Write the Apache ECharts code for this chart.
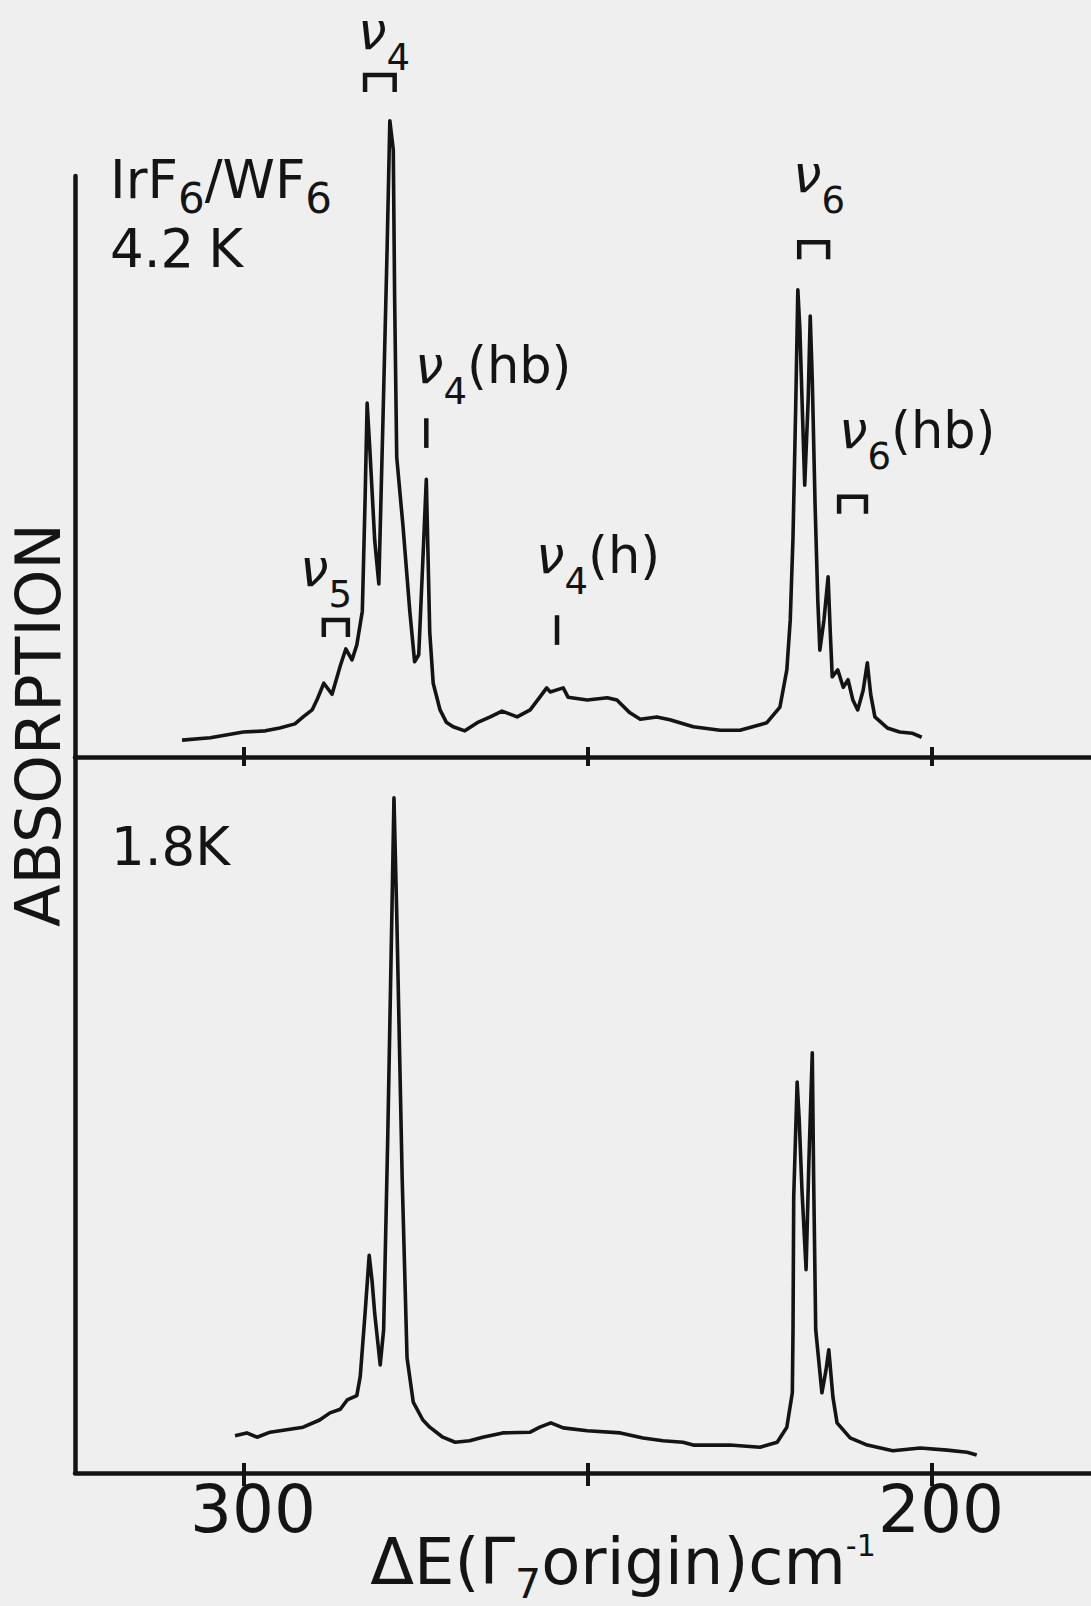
<!DOCTYPE html>
<html>
<head>
<meta charset="utf-8">
<title>IrF6/WF6 absorption</title>
<script src="https://cdn.jsdelivr.net/npm/echarts@6/dist/echarts.min.js"></script>
<style>
  html, body { margin: 0; padding: 0; background: #efefef; }
  #main { width: 1091px; height: 1606px; }
</style>
</head>
<body>
<div id="main"></div>
<script>
// 4.2 K spectrum (upper trace), wavenumber cm-1 / absorption (arb. units)
var topWavenumber = [309.0, 304.9, 300.1, 296.9, 294.8, 292.6, 291.4, 290.1, 289.4, 288.4,
  287.2, 286.0, 285.2, 284.3, 283.6, 282.8, 282.4, 282.1, 281.7, 281.0,
  280.4, 279.8, 279.2, 278.8, 278.3, 278.1, 277.8, 276.9, 275.9, 275.2,
  274.6, 274.0, 273.5, 273.3, 273.0, 272.5, 271.5, 270.6, 269.6, 267.9,
  266.1, 264.2, 262.5, 260.3, 258.4, 257.0, 256.0, 255.5, 253.6, 252.9,
  250.1, 247.2, 245.8, 243.9, 242.4, 240.0, 238.1, 234.7, 230.8, 227.9,
  224.0, 222.1, 221.1, 220.6, 220.2, 219.8, 219.5, 219.2, 218.8, 218.5,
  218.0, 217.7, 217.4, 217.0, 216.6, 216.3, 215.7, 215.1, 214.8, 214.5,
  213.7, 212.9, 212.2, 211.5, 210.8, 210.0, 209.4, 208.9, 208.3, 206.5,
  204.7, 202.9, 201.5];
var topAbsorption = [2.9, 3.3, 4.3, 4.5, 5.0, 5.7, 6.9, 8.1, 9.8, 12.7,
  10.8, 15.7, 18.6, 16.7, 19.3, 25.1, 44.2, 60.9, 52.8, 37.3,
  29.8, 58.0, 87.3, 109.5, 104.5, 78.7, 51.6, 39.9, 25.1, 16.4,
  17.6, 33.9, 47.8, 37.3, 21.5, 12.7, 8.1, 6.0, 5.2, 4.5,
  5.9, 6.9, 7.9, 6.9, 8.1, 10.3, 11.9, 11.2, 11.9, 10.3,
  9.8, 10.2, 9.8, 7.6, 6.5, 6.9, 6.4, 5.2, 4.6, 4.6,
  5.9, 8.6, 15.0, 23.6, 37.9, 60.9, 80.4, 73.5, 58.0, 46.8,
  61.4, 75.9, 64.9, 43.7, 27.0, 18.4, 23.6, 31.0, 21.9, 13.8,
  15.0, 12.0, 13.3, 9.8, 8.1, 11.5, 16.2, 10.7, 6.9, 5.0,
  4.3, 4.1, 3.4];

// 1.8 K spectrum (lower trace)
var bottomWavenumber = [301.3, 299.6, 298.1, 296.2, 291.4, 289.0, 287.5, 286.0, 285.0, 283.6,
  283.1, 282.4, 281.8, 281.4, 281.0, 280.2, 279.7, 279.1, 278.5, 278.2,
  277.8, 277.0, 276.3, 275.4, 274.0, 273.0, 271.1, 269.3, 267.2, 265.3,
  262.4, 258.4, 257.0, 255.4, 253.6, 250.1, 245.3, 242.0, 239.1, 236.2,
  234.7, 229.4, 225.0, 222.5, 221.1, 220.3, 220.2, 220.1, 219.6, 219.3,
  218.9, 218.3, 217.9, 217.4, 217.2, 216.9, 216.0, 215.4, 215.0, 214.4,
  213.8, 211.9, 209.4, 205.7, 201.7, 197.8, 194.9, 193.5];
var bottomAbsorption = [5.2, 5.6, 5.0, 5.7, 6.4, 7.4, 8.4, 8.9, 10.2, 10.8,
  13.5, 22.3, 30.4, 27.0, 22.3, 15.1, 20.0, 47.1, 78.2, 94.3,
  78.2, 40.9, 16.1, 9.9, 7.4, 6.4, 5.0, 4.3, 4.5, 5.0,
  5.6, 5.7, 6.4, 7.0, 6.3, 5.9, 5.6, 4.9, 4.5, 4.3,
  3.9, 3.9, 3.6, 4.3, 6.4, 11.2, 20.0, 38.5, 54.6, 49.3,
  39.5, 28.4, 43.3, 58.7, 40.9, 20.0, 11.2, 14.4, 17.2, 10.6,
  7.0, 4.9, 3.9, 3.1, 3.5, 3.2, 2.9, 2.5];

var tickValues = [300, 250, 200];
var labelValues = [300, 200];

// band brackets over the 4.2 K trace: from, to (cm-1), height
var bracketFrom = [282.4, 219.3, 288.4, 213.5];
var bracketTo = [278.1, 215.1, 284.9, 209.6];
var bracketAt = [117.4, 88.6, 23.6, 44.8];
// single marks: position, top, bottom
var markAt = [273.5, 254.5];
var markTop = [58.3, 24.4];
var markBottom = [53.2, 19.3];

var ink = '#141414';
var font = 'DejaVu Sans';

function pairs(xs, ys) {
  return xs.map(function (x, i) { return [x, ys[i]]; });
}

var bracketData = bracketFrom.map(function (f, i) { return [f, bracketTo[i], bracketAt[i]]; });
var markData = markAt.map(function (m, i) { return [m, markTop[i], markBottom[i]]; });

// main glyphs sit on top of the line box, subscripts on its bottom
var nuRich = {
  n: { fontFamily: font, fontStyle: 'italic', fontSize: 51, lineHeight: 70, verticalAlign: 'top', fill: ink },
  s: { fontFamily: font, fontSize: 37, verticalAlign: 'bottom', fill: ink },
  r: { fontFamily: font, fontSize: 51, lineHeight: 70, verticalAlign: 'top', fill: ink }
};

function nu(sub, rest) {
  return '{n|ν}{s|' + sub + '}' + (rest ? '{r|' + rest + '}' : '');
}

function nuText(x, y, sub, rest) {
  return {
    type: 'text', x: x, y: y,
    style: { text: nu(sub, rest), rich: nuRich, align: 'left', textAlign: 'left',
      verticalAlign: 'top', textVerticalAlign: 'top' }
  };
}

var chart = echarts.init(document.getElementById('main'), null, { renderer: 'svg' });

var xBase = {
  type: 'value', min: 176.89, max: 324.56, inverse: true,
  splitLine: { show: false }, axisLabel: { show: false }
};

chart.setOption({
  animation: false,
  backgroundColor: '#efefef',
  grid: [
    { left: 75, top: 176, width: 1016, height: 581 },
    { left: 75, top: 757, width: 1016, height: 716 }
  ],
  xAxis: [
    Object.assign({}, xBase, {
      gridIndex: 0, position: 'bottom',
      axisLine: { show: true, onZero: false, lineStyle: { color: ink, width: 4.5 } },
      axisTick: { show: true, inside: false, length: 9, customValues: tickValues, lineStyle: { color: ink, width: 4 } }
    }),
    Object.assign({}, xBase, {
      gridIndex: 0, position: 'bottom',
      axisLine: { show: false, onZero: false },
      axisTick: { show: true, inside: true, length: 10, customValues: tickValues, lineStyle: { color: ink, width: 4 } }
    }),
    Object.assign({}, xBase, {
      gridIndex: 1, position: 'bottom',
      axisLine: { show: true, onZero: false, lineStyle: { color: ink, width: 4.5 } },
      axisTick: { show: true, inside: false, length: 13, customValues: tickValues, lineStyle: { color: ink, width: 4 } },
      axisLabel: {
        show: true, customValues: labelValues, margin: 3, padding: [0, 0, 0, 18],
        fontFamily: font, fontSize: 66, color: ink
      }
    }),
    Object.assign({}, xBase, {
      gridIndex: 1, position: 'bottom',
      axisLine: { show: false, onZero: false },
      axisTick: { show: true, inside: true, length: 10, customValues: tickValues, lineStyle: { color: ink, width: 4 } }
    })
  ],
  yAxis: [
    {
      type: 'value', gridIndex: 0, min: 0, max: 100,
      axisLine: { show: true, lineStyle: { color: ink, width: 4.5 } },
      axisTick: { show: false }, axisLabel: { show: false }, splitLine: { show: false }
    },
    {
      type: 'value', gridIndex: 1, min: 0, max: 100,
      axisLine: { show: true, lineStyle: { color: ink, width: 4.5 } },
      axisTick: { show: false }, axisLabel: { show: false }, splitLine: { show: false }
    }
  ],
  series: [
    {
      name: '4.2 K', type: 'line', xAxisIndex: 0, yAxisIndex: 0,
      data: pairs(topWavenumber, topAbsorption),
      showSymbol: false, clip: false,
      lineStyle: { color: ink, width: 3.6, join: 'round' }
    },
    {
      name: '1.8 K', type: 'line', xAxisIndex: 2, yAxisIndex: 1,
      data: pairs(bottomWavenumber, bottomAbsorption),
      showSymbol: false, clip: false,
      lineStyle: { color: ink, width: 3.6, join: 'round' }
    },
    {
      // brackets over band groups
      type: 'custom', xAxisIndex: 0, yAxisIndex: 0, clip: false,
      data: bracketData,
      renderItem: function (params, api) {
        var a = api.coord([api.value(0), api.value(2)]);
        var b = api.coord([api.value(1), api.value(2)]);
        var leg = 17;
        return {
          type: 'polyline',
          shape: { points: [[a[0], a[1] + leg], a, b, [b[0], b[1] + leg]] },
          style: { stroke: ink, lineWidth: 4.5, fill: null }
        };
      }
    },
    {
      // single line marks
      type: 'custom', xAxisIndex: 0, yAxisIndex: 0, clip: false,
      data: markData,
      renderItem: function (params, api) {
        var t = api.coord([api.value(0), api.value(1)]);
        var b = api.coord([api.value(0), api.value(2)]);
        return {
          type: 'line',
          shape: { x1: t[0], y1: t[1], x2: b[0], y2: b[1] },
          style: { stroke: ink, lineWidth: 4.5 }
        };
      }
    }
  ],
  graphic: [
    {
      type: 'text', x: 38, y: 725, rotation: Math.PI / 2,
      style: { text: 'ABSORPTION', fill: ink, fontFamily: font, fontSize: 62,
        align: 'center', textAlign: 'center', verticalAlign: 'middle', textVerticalAlign: 'middle' }
    },
    {
      type: 'text', x: 623, y: 1530,
      style: {
        text: '{m|ΔE(Γ}{s|7}{m|origin)cm}{p|-1}',
        align: 'center', textAlign: 'center', verticalAlign: 'top', textVerticalAlign: 'top',
        rich: {
          m: { fontFamily: font, fontSize: 64, lineHeight: 74, verticalAlign: 'top', fill: ink },
          s: { fontFamily: font, fontSize: 41, verticalAlign: 'bottom', fill: ink },
          p: { fontFamily: font, fontSize: 30, verticalAlign: 'top', fill: ink }
        }
      }
    },
    {
      type: 'text', x: 110, y: 153,
      style: {
        text: '{m|IrF}{s|6}{m|/WF}{s|6}',
        align: 'left', textAlign: 'left', verticalAlign: 'top', textVerticalAlign: 'top',
        rich: {
          m: { fontFamily: font, fontSize: 53, lineHeight: 66, verticalAlign: 'top', fill: ink },
          s: { fontFamily: font, fontSize: 42, verticalAlign: 'bottom', fill: ink }
        }
      }
    },
    {
      type: 'text', x: 110, y: 222,
      style: {
        text: '{m|4.2}{k|K}',
        align: 'left', textAlign: 'left', verticalAlign: 'top', textVerticalAlign: 'top',
        rich: {
          m: { fontFamily: font, fontSize: 53, lineHeight: 60, verticalAlign: 'top', fill: ink },
          k: { fontFamily: font, fontSize: 53, lineHeight: 60, verticalAlign: 'top', fill: ink, padding: [0, 0, 0, 14] }
        }
      }
    },
    {
      type: 'text', x: 111, y: 820,
      style: {
        text: '1.8K', fill: ink, fontFamily: font, fontSize: 53,
        align: 'left', textAlign: 'left', verticalAlign: 'top', textVerticalAlign: 'top'
      }
    },
    nuText(358, 6, '4', ''),
    nuText(415, 340, '4', '(hb)'),
    nuText(300, 543, '5', ''),
    nuText(536, 530, '4', '(h)'),
    nuText(793, 149, '6', ''),
    nuText(839, 405, '6', '(hb)')
  ]
});
</script>
</body>
</html>
